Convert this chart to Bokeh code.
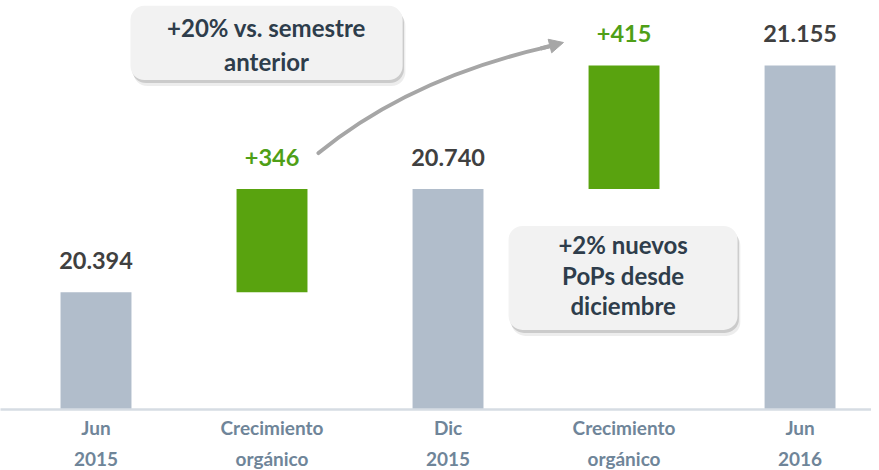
from bokeh.plotting import figure
from bokeh.models import Range1d, FixedTicker, BoxAnnotation, Arrow, NormalHead
from bokeh.core.properties import value
from bokeh.embed import file_html
from bokeh.resources import INLINE

# ---------------- data ----------------
cat_labels = ["Jun\n2015", "Crecimiento\norgánico", "Dic\n2015", "Crecimiento\norgánico", "Jun\n2016"]
total_pos = [0, 2, 4]
total_values = [20394, 20740, 21155]
growth_pos = [1, 3]
growth_values = [346, 415]
axis_start = 20000
note1_text = "+20% vs. semestre\nanterior"
note2_text = "+2% nuevos\nPoPs desde\ndiciembre"

# ---------------- derived ----------------
growth_bottoms = total_values[:-1]
growth_tops = [b + g for b, g in zip(growth_bottoms, growth_values)]
total_labels = [f"{v:,}".replace(",", ".") for v in total_values]
growth_labels = [f"+{g}" for g in growth_values]

FONT = "Lato"
GRAY = "#b1bdcb"
GREEN = "#59a30f"

p = figure(frame_width=871, frame_height=409, output_backend="svg", toolbar_location=None,
           x_range=Range1d(-0.5426, 4.406), y_range=Range1d(axis_start, 21373),
           min_border_left=0, min_border_right=0, min_border_top=0, min_border_bottom=0)
p.outline_line_color = None
p.xgrid.visible = False
p.ygrid.visible = False
p.yaxis.visible = False
p.background_fill_color = "white"

bar_w = 0.403
p.vbar(x=total_pos, top=total_values, bottom=axis_start, width=bar_w,
       fill_color=GRAY, line_color=None)
p.vbar(x=growth_pos, top=growth_tops, bottom=growth_bottoms, width=bar_w,
       fill_color=GREEN, line_color=None)

p.text(x=total_pos, y=total_values, text=total_labels, text_align="center",
       text_baseline="middle", y_offset=-32, text_font=value(FONT),
       text_font_style="bold", text_font_size="23.5px", text_color="#404040")
p.text(x=growth_pos, y=growth_tops, text=growth_labels, text_align="center",
       text_baseline="middle", y_offset=-32, text_font=value(FONT),
       text_font_style="bold", text_font_size="23.5px", text_color="#4f9f17")

ax = p.xaxis[0]
ax.ticker = FixedTicker(ticks=list(range(len(cat_labels))))
ax.major_label_overrides = {i: lab for i, lab in enumerate(cat_labels)}
ax.major_tick_line_color = None
ax.minor_tick_line_color = None
ax.major_tick_out = 0
ax.major_tick_in = 0
ax.axis_line_color = "#d6dce3"
ax.axis_line_width = 2.5
ax.major_label_text_font = FONT
ax.major_label_text_font_style = "bold"
ax.major_label_text_font_size = "19px"
ax.major_label_text_color = "#6f8599"
ax.major_label_text_line_height = 1.35
ax.major_label_standoff = 6

# ---------------- callouts ----------------
def callout(left, right, bottom, top, dx, dy):
    for k, a in [(2.0, 0.07), (1.0, 0.14)]:
        p.add_layout(BoxAnnotation(left=left + dx * k, right=right + dx * k,
                                   bottom=bottom - dy * k, top=top - dy * k,
                                   fill_color="#000000", fill_alpha=a, line_color=None,
                                   border_radius=14, level="underlay"))
    p.add_layout(BoxAnnotation(left=left, right=right, bottom=bottom, top=top,
                               fill_color="#f2f2f2", fill_alpha=1, line_color=None,
                               border_radius=14, level="underlay"))

callout(0.196, 1.742, 21106, 21355, 0.008, 10)
callout(2.344, 3.645, 20267, 20616, 0.008, 10)

p.text(x=[0.969], y=[21225], text=[note1_text], text_align="center", text_baseline="middle",
       text_font=value(FONT), text_font_style="bold", text_font_size="24px",
       text_color="#2e3d4b", text_line_height=1.15)
p.text(x=[2.995], y=[20451], text=[note2_text], text_align="center", text_baseline="middle",
       text_font=value(FONT), text_font_style="bold", text_font_size="24px",
       text_color="#2e3d4b", text_line_height=1.05)

# ---------------- arrow ----------------
ARROW = "#a6a6a6"
p.quadratic(x0=[1.264], y0=[20861], cx=[1.787], cy=[21113], x1=[2.571], y1=[21218],
            line_color=ARROW, line_width=4, line_cap="round")
p.add_layout(Arrow(end=NormalHead(size=14, fill_color=ARROW, line_color=ARROW),
                   x_start=2.526, y_start=21212, x_end=2.656, y_end=21232,
                   line_color=ARROW, line_width=4))

open("out.html", "w").write(file_html(p, INLINE))
